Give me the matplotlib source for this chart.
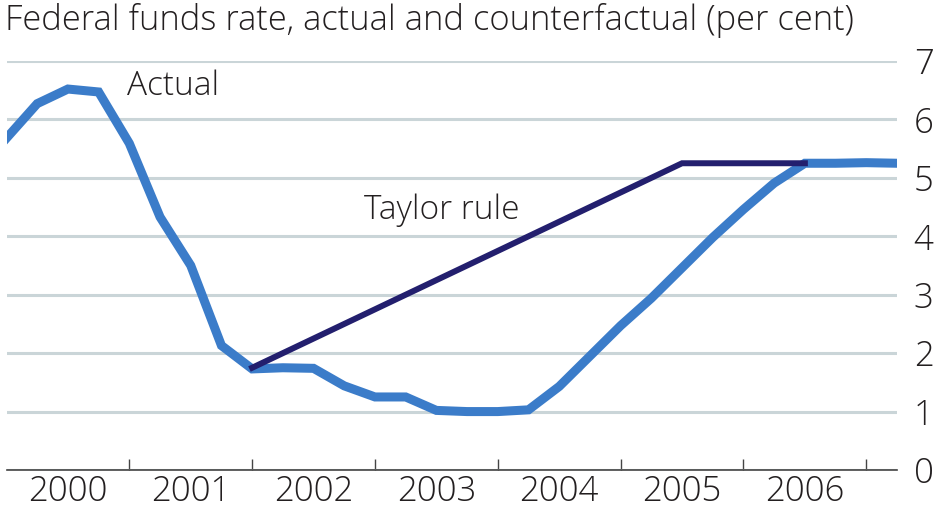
import numpy as np
import matplotlib
matplotlib.use("Agg")
import matplotlib.pyplot as plt

# Quarterly federal funds rate (per cent), Q1 2000 - Q2 2007
quarters = [2000.0, 2000.25, 2000.5, 2000.75, 2001.0, 2001.25, 2001.5, 2001.75,
            2002.0, 2002.25, 2002.5, 2002.75, 2003.0, 2003.25, 2003.5, 2003.75,
            2004.0, 2004.25, 2004.5, 2004.75, 2005.0, 2005.25, 2005.5, 2005.75,
            2006.0, 2006.25, 2006.5, 2006.75, 2007.0, 2007.25]
actual_rate = [5.68, 6.27, 6.52, 6.47, 5.59, 4.33, 3.50, 2.13,
               1.73, 1.75, 1.74, 1.44, 1.25, 1.25, 1.02, 1.00,
               1.00, 1.03, 1.43, 1.95, 2.47, 2.94, 3.46, 3.98,
               4.46, 4.91, 5.25, 5.25, 5.26, 5.25]

# Taylor-rule counterfactual path (vertices)
taylor_dates = [2002.0, 2005.5, 2006.5]
taylor_rate = [1.75, 5.25, 5.25]

years = [2000, 2001, 2002, 2003, 2004, 2005, 2006]
y_ticks = [0, 1, 2, 3, 4, 5, 6, 7]

title = "Federal funds rate, actual and counterfactual (per cent)"
font = "Open Sans"
weight = "light"
text_color = "#231f20"

fig = plt.figure(figsize=(9.39, 5.16), dpi=100)
ax = fig.add_axes([6.5 / 939, 46 / 516, (897 - 6.5) / 939, 409 / 516])

ax.plot(quarters, actual_rate, color="#3b7cc9", linewidth=6.5, solid_joinstyle="miter", zorder=3)
ax.plot(taylor_dates, taylor_rate, color="#231f6e", linewidth=4.3, solid_joinstyle="miter", zorder=4)

ax.set_xlim(2000.0, 2007.25)
ax.set_ylim(0, 7)

# y axis on the right, no tick marks
ax.yaxis.tick_right()
ax.set_yticks(y_ticks)
ax.set_yticklabels([str(v) for v in y_ticks], fontsize=25, family=font, weight=weight, color=text_color)
ax.tick_params(axis="y", length=0, pad=12)
ax.yaxis.grid(True, color="#cad5d8", linewidth=2.2)
ax.set_axisbelow(True)

# x axis: tick marks at year boundaries, labels centred on the year
ax.set_xticks([y + 1 for y in years])
ax.set_xticklabels([])
ax.set_xticks([y + 0.5 for y in years], minor=True)
ax.set_xticklabels([str(y) for y in years], minor=True, fontsize=25, family=font, weight=weight, color=text_color)
ax.tick_params(axis="x", which="major", direction="in", length=8, width=1, color="#444444")
ax.tick_params(axis="x", which="minor", length=0, pad=3)

for side in ["top", "left", "right"]:
    ax.spines[side].set_visible(False)
ax.spines["bottom"].set_color("#444444")
ax.spines["bottom"].set_linewidth(1.2)
ax.spines["bottom"].set_zorder(5)

ax.text(2000.98, 6.56, "Actual", fontsize=24, family=font, weight=weight, color=text_color, va="center", ha="left")
ax.text(2002.91, 4.45, "Taylor rule", fontsize=24, family=font, weight=weight, color=text_color, va="center", ha="left")

fig.text(5 / 939, 1 - 3 / 516, title, fontsize=24.8, family=font, weight=weight, color=text_color, va="top", ha="left")

fig.savefig("out.png", dpi=100)
